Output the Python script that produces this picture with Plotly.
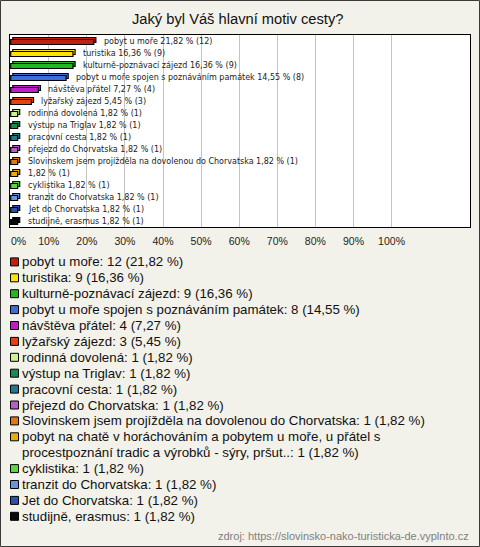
import plotly.graph_objects as go

# ---------------- data ----------------
categories = [
    "pobyt u moře",
    "turistika",
    "kulturně-poznávací zájezd",
    "pobyt u moře spojen s poznáváním památek",
    "návštěva přátel",
    "lyžařský zájezd",
    "rodinná dovolená",
    "výstup na Triglav",
    "pracovní cesta",
    "přejezd do Chorvatska",
    "Slovinskem jsem projížděla na dovolenou do Chorvatska",
    "pobyt na chatě v horáchováním a pobytem u moře, u přátel s\nprocestpoznání tradic a výrobků - sýry, pršut..",
    "cyklistika",
    "tranzit do Chorvatska",
    "Jet do Chorvatska",
    "studijně, erasmus",
]
bar_names = [
    "pobyt u moře", "turistika", "kulturně-poznávací zájezd",
    "pobyt u moře spojen s poznáváním památek", "návštěva přátel", "lyžařský zájezd",
    "rodinná dovolená", "výstup na Triglav", "pracovní cesta", "přejezd do Chorvatska",
    "Slovinskem jsem projížděla na dovolenou do Chorvatska", "",
    "cyklistika", "tranzit do Chorvatska", "Jet do Chorvatska", "studijně, erasmus",
]
counts = [12, 9, 9, 8, 4, 3, 1, 1, 1, 1, 1, 1, 1, 1, 1, 1]
percents = [21.82, 16.36, 16.36, 14.55, 7.27, 5.45, 1.82, 1.82, 1.82, 1.82,
            1.82, 1.82, 1.82, 1.82, 1.82, 1.82]
colors = ["#C2200E", "#FBE20A", "#22B822", "#3D6ED8", "#C21BCF", "#E5420E",
          "#C9F38E", "#168C50", "#1F7A8C", "#B85FC6", "#E3780F", "#E6AD10",
          "#5BD63C", "#6495DE", "#2D52A8", "#0A0A0A"]
x_ticks = [0, 10, 20, 30, 40, 50, 60, 70, 80, 90, 100]
tick_labels = ["0%", "10%", "20%", "30%", "40%", "50%", "60%", "70%", "80%", "90%", "100%"]
title_text = "Jaký byl Váš hlavní motiv cesty?"
source_text = "zdroj: https://slovinsko-nako-turisticka-de.vyplnto.cz"

# ---------------- layout constants ----------------
W, H = 480, 547
L, R, T, B = 10, 10, 35, 320
PW, PH = W - L - R, H - T - B
BG = "#F3F2EA"


def px_x(px):
    return (px - L) / PW


def px_y(py):
    return (H - B - py) / PH


def fmt(p):
    return f"{p:.2f}".replace(".", ",")


idx = list(range(len(categories)))
bw = 0.42
shift = 1.0 / 12

fig = go.Figure()
# back (depth) face
fig.add_trace(go.Bar(
    x=percents, y=idx, orientation="h", base=0.55, width=bw, offset=-bw / 2 - shift,
    marker=dict(color=colors, line=dict(color="#000000", width=1.2)),
    showlegend=False, hoverinfo="skip",
))
# front face
fig.add_trace(go.Bar(
    x=percents, y=idx, orientation="h", width=bw, offset=-bw / 2 + shift,
    marker=dict(color=colors, line=dict(color="#000000", width=1.2)),
    showlegend=False,
))

annotations = []
# bar labels
for i, (n, p, c) in enumerate(zip(bar_names, percents, counts)):
    txt = (n + " " if n else "") + f"{fmt(p)} % ({c})"
    annotations.append(dict(
        x=p, y=i, xref="x", yref="y", text=txt, showarrow=False,
        xanchor="left", yanchor="middle", xshift=8,
        font=dict(family="DejaVu Sans", size=8, color="#222222"),
    ))

# 0% tick label (shifted inside like the original)
annotations.append(dict(
    x=0, y=px_y(241), xref="x", yref="paper", text=tick_labels[0], showarrow=False,
    xanchor="center", yanchor="middle", xshift=8,
    font=dict(family="Liberation Sans", size=10.5, color="#222222"),
))

# title
annotations.append(dict(
    x=px_x(237), y=px_y(19), xref="paper", yref="paper", text=title_text,
    showarrow=False, xanchor="center", yanchor="middle",
    font=dict(family="Liberation Sans", size=14.7, color="#111111"),
))

# legend
shapes = []
line_h = 15.9
y0 = 261.9
line = 0
for i, (name, c, p, col) in enumerate(zip(categories, counts, percents, colors)):
    parts = name.split("\n")
    parts[-1] = parts[-1] + f": {c} ({fmt(p)} %)"
    yc = y0 + line * line_h
    shapes.append(dict(
        type="rect", xref="paper", yref="paper",
        x0=px_x(10.5), x1=px_x(18.5), y0=px_y(yc + 4), y1=px_y(yc - 4),
        fillcolor=col, line=dict(color="#000000", width=1),
    ))
    for part in parts:
        annotations.append(dict(
            x=px_x(19.5), y=px_y(y0 + line * line_h), xref="paper", yref="paper",
            text=part, showarrow=False, xanchor="left", yanchor="middle",
            font=dict(family="Liberation Sans", size=13.3, color="#111111"),
        ))
        line += 1

# source
annotations.append(dict(
    x=px_x(471), y=px_y(535.5), xref="paper", yref="paper", text=source_text,
    showarrow=False, xanchor="right", yanchor="middle",
    font=dict(family="Liberation Sans", size=11, color="#808080"),
))

# outer border
shapes.append(dict(
    type="rect", xref="paper", yref="paper",
    x0=px_x(0.5), x1=px_x(479.5), y0=px_y(546.5), y1=px_y(0.5),
    line=dict(color="#3A3A3A", width=1), fillcolor="rgba(0,0,0,0)", layer="below",
))

fig.update_layout(
    width=W, height=H,
    margin=dict(l=L, r=R, t=T, b=B, pad=0),
    paper_bgcolor=BG, plot_bgcolor="#FFFFFF",
    barmode="overlay",
    showlegend=False,
    annotations=annotations,
    shapes=shapes,
    xaxis=dict(
        range=[-0.18, 120.6], tickvals=x_ticks, ticktext=[""] + tick_labels[1:],
        showgrid=True, gridcolor="#C4C4C4", gridwidth=1, zeroline=False,
        showline=True, mirror=True, linecolor="#000000", linewidth=1,
        ticks="", ticklabelstandoff=4,
        tickfont=dict(family="Liberation Sans", size=10.5, color="#222222"),
        fixedrange=True,
    ),
    yaxis=dict(
        range=[15.5, -0.5], showticklabels=False, showgrid=False, zeroline=False,
        showline=True, mirror=True, linecolor="#000000", linewidth=1,
        ticks="", fixedrange=True,
    ),
)

fig.write_html(
    "out.html",
    config={"displayModeBar": False},
    post_script="document.body.style.margin='0';document.body.style.overflow='hidden';",
)
